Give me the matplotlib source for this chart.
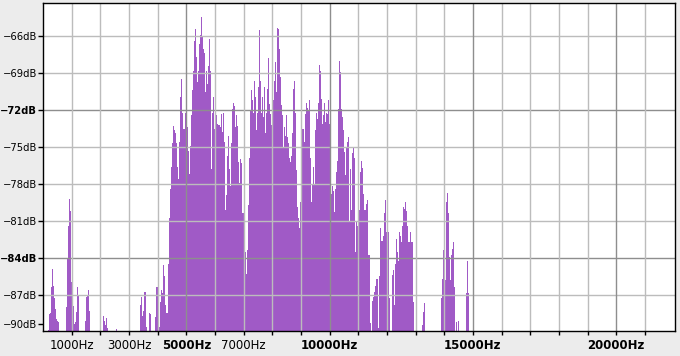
import numpy as np
import matplotlib
matplotlib.use("Agg")
import matplotlib.pyplot as plt

# spectrum levels, one value per ~35 Hz bin (one screen column)
# None means the bin is below the -90 dB floor
BIN_HZ = 22050 / 632.4
FLOOR = -100

hum_start = 5
hum_db = [-89.9, -88.6, -88.5, -86.4, -84.9, -86.3, -87.3, -88.2, -89.0, -89.1, -89.2]

low_peak_start = 23
low_peak_db = [-88.0, -84.0, -81.4, -79.2, -80.2, -86.0, -86.3, -87.9, -89.4, -89.2,
               -88.4, -86.4, -87.1]

low2_start = 42
low2_db = [-89.1, -87.2, -87.1, -86.6, -88.3]

low3_start = 60
low3_db = [-88.7, -89.1, -89.5, -88.9, -89.7]

low4_start = 73
low4_db = [-89.8]

rise_start = 97
rise_db = [-87.8, -87.2, -88.7, -88.3, -86.8, -86.8, -89.6, None, None, -88.5,
           -88.6, None, None, None, None, -88.8, -86.4, -86.4, -87.8, -89.6,
           -87.6, -86.6, -86.9, -84.6, -85.5, -87.8, -88.5, -88.5, -84.5]

main_start = 126
main_db = [
    -80.8, -78.4, -76.6, -74.7, -73.3, -73.6, -73.9, -74.7, -76.6, -77.6,
    -74.6, -70.9, -69.5, -72.2, -73.5, -73.5, -72.2, -71.6, -73.4, -75.3,
    -77.2, -74.9, -72.4, -70.4, -68.8, -66.4, -65.4, -67.7, -69.7, -68.8,
    -66.6, -65.9, -64.4, -66.0, -67.0, -67.4, -70.5, -68.8, -69.9, -68.4,
    -66.2, -68.8, -76.8, -72.2, -70.9, -73.5, -76.2, -72.4, -73.1, -73.2,
    -73.2, -73.4, -72.3, -73.8, -72.2, -74.6,
    -80.1, -78.9, -75.7, -74.1, -76.8, -78.2, -74.7, -71.9, -71.4, -71.7,
    -73.4, -72.4, -73.3, -76.2, -77.9, -76.0, -76.3, -80.4, -80.4, -81.4,
    -83.5, -85.3, -83.4, -79.7, -75.9, -72.0, -70.4, -71.2, -72.2, -69.6,
    -70.9, -73.6, -72.2, -70.1, -65.5, -69.6, -72.2, -70.9, -72.6, -70.1,
    -73.9, -72.2, -70.3, -67.8, -71.5, -72.3, -73.2, -73.2, -71.2, -69.6,
    -68.1, -70.5, -65.3, -65.4, -67.0, -69.3, -71.6, -72.4, -75.0, -73.4,
    -74.1, -72.4, -74.2, -74.7, -75.9,
    -76.2, -75.7, -73.9, -70.3, -69.6, -72.2, -76.9, -79.9, -80.8, -81.6,
    -79.5, -76.4, -73.5, -73.5, -74.6, -72.3, -71.4, -71.8, -72.0, -71.2,
    -75.9, -79.5, -78.1, -76.6, -78.1, -73.6, -72.2, -72.7, -71.4, -68.3,
    -68.8, -71.1, -73.1, -72.4, -71.4, -73.0, -72.2, -72.3, -71.2, -73.1,
    -74.3, -78.8, -78.2, -78.6, -80.3, -78.4, -77.0, -76.1, -71.9, -68.0,
    -68.9, -71.9, -72.6, -73.6, -75.4, -77.3, -75.0, -74.6, -74.2, -81.1,
    -76.8, -80.1, -75.5, -75.1, -75.9,
    -83.5, -81.0, -81.4, -81.5, -80.1, -77.0, -76.1, -76.7, -78.8, -80.1,
    -80.1, -79.6, -79.3, -83.8, -83.8, -89.3, None, -87.5, -87.2, -86.8,
    -86.3, -85.7, -85.7, -89.7, -85.5, -81.6, -82.6, -82.6, -82.2, -80.4,
    -79.3, -81.9, -89.9, -81.9, -87.3, None, None, -85.4, -85.0, -87.8,
    -84.5, -82.5, -83.5, -84.3, -81.9, -82.2, -82.7, -81.4, -79.9, -80.0,
    -79.5, -80.2, -81.4, -82.7, -82.7, -81.9, -82.7, -82.7, -87.6,
]

high1_start = 379
high1_db = [-89.5, -88.4, -87.7]

high2_start = 398
high2_db = [-87.3, -85.7, -83.4, -85.7, -85.8, -79.5, -78.7, -80.4, -83.9, -85.8,
            -83.8, -83.3, -82.7, -86.4, None, -89.2, None, -89.1]

high3_start = 423
high3_db = [-86.9, -84.3, -86.9]

bands = [(hum_start, hum_db), (low_peak_start, low_peak_db), (low2_start, low2_db),
         (low3_start, low3_db), (low4_start, low4_db), (rise_start, rise_db),
         (main_start, main_db), (high1_start, high1_db), (high2_start, high2_db),
         (high3_start, high3_db)]

y_ticks = [-66, -69, -72, -75, -78, -81, -84, -87]
y_major = [-72, -84]
x_grid = list(range(1000, 22000, 1000))
x_major = [5000, 10000, 15000, 20000]
x_labelled = [1000, 3000, 5000, 7000, 10000, 15000, 20000]

freqs = []
levels = []
for start, vals in bands:
    for i, v in enumerate(vals):
        if v is None:
            continue
        freqs.append((start + i + 0.5) * BIN_HZ)
        levels.append(v)
freqs = np.array(freqs)
levels = np.array(levels)

fig = plt.figure(figsize=(6.8, 3.56), dpi=100, facecolor='#ececec')
ax = fig.add_axes([43 / 680, 1 - 331 / 356, 632 / 680, 328 / 356])
ax.set_facecolor('white')

ax.bar(freqs, levels - FLOOR, bottom=FLOOR, width=BIN_HZ * 1.03, color='#a05ac6',
       linewidth=0, antialiased=False, zorder=2)

for yv in y_ticks:
    c = '#8e8e8e' if yv in y_major else '#bcbcbc'
    ax.axhline(yv, color=c, lw=1.0, zorder=3)
for xv in x_grid:
    c = '#8e8e8e' if xv in x_major else '#bcbcbc'
    ax.axvline(xv, color=c, lw=1.0, zorder=3)

ax.set_xlim(0, 22050)
ax.set_ylim(-89.95, -63.3)

ax.set_xticks(x_grid)
ax.set_xticklabels([f'{v}Hz' if v in x_labelled else '' for v in x_grid])
for lab, v in zip(ax.get_xticklabels(), x_grid):
    if v in x_major:
        lab.set_fontweight('bold')

ytk = y_ticks + [-89.35]
ax.set_yticks(ytk)
ax.set_yticklabels(['\u2212%ddB' % abs(v) for v in y_ticks] + ['\u221290dB'])
for lab, v in zip(ax.get_yticklabels(), ytk):
    if v in y_major:
        lab.set_fontweight('bold')

ax.tick_params(axis='x', direction='out', length=3, width=1, pad=3, labelsize=8.5)
ax.tick_params(axis='y', direction='out', length=3.5, width=1, pad=0.8, labelsize=7.2)

for s in ax.spines.values():
    s.set_color('black')
    s.set_linewidth(1.0)
    s.set_zorder(5)

fig.savefig('out.png', dpi=100, facecolor=fig.get_facecolor())
